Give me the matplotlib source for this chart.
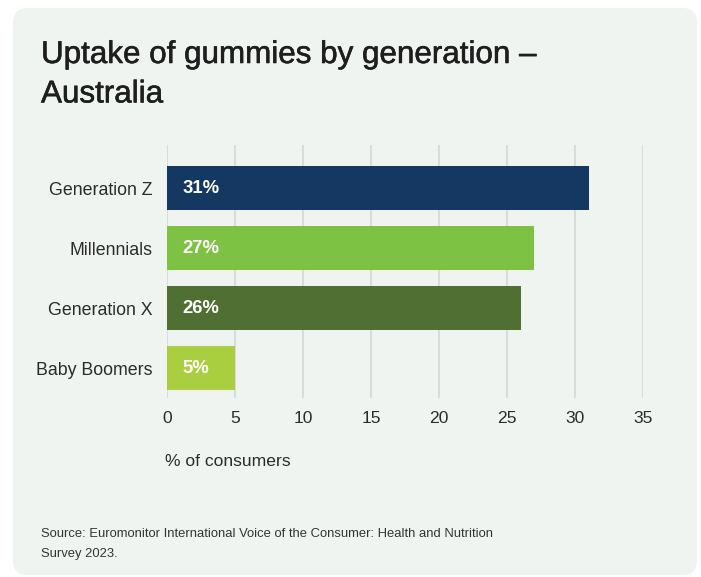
import matplotlib.pyplot as plt
import matplotlib.patheffects as pe
from matplotlib.patches import FancyBboxPatch
from matplotlib import font_manager

generations = ["Generation Z", "Millennials", "Generation X", "Baby Boomers"]
uptake = [31, 27, 26, 5]
bar_colors = ["#143862", "#7dc243", "#506f33", "#a9cf41"]
x_ticks = [0, 5, 10, 15, 20, 25, 30, 35]

title = "Uptake of gummies by generation \u2013\nAustralia"
x_label = "% of consumers"
source = ("Source: Euromonitor International Voice of the Consumer: Health and Nutrition\n"
          "Survey 2023.")

available = {f.name for f in font_manager.fontManager.ttflist}
base_font = "Liberation Sans" if "Liberation Sans" in available else "DejaVu Sans"
narrow = "Liberation Sans Narrow" in available
plt.rcParams["font.family"] = [base_font, "DejaVu Sans"]

W, H = 701, 577
fig = plt.figure(figsize=(W / 100, H / 100), dpi=100)
fig.patch.set_facecolor("white")

card_bg = "#f0f4f1"
card = FancyBboxPatch((13 / W, 2 / H), (697 - 13) / W, (575 - 8) / H,
                      boxstyle="round,pad=0,rounding_size=0.02",
                      transform=fig.transFigure, facecolor=card_bg,
                      edgecolor="none", zorder=-10, mutation_aspect=W / H)
fig.patches.append(card)

ax = fig.add_axes([167 / W, 1 - 398 / H, 476 / W, 253 / H])
ax.set_facecolor("none")
ax.set_zorder(2)

ypos = list(range(len(generations)))
ax.barh(ypos, uptake, height=0.733, color=bar_colors, zorder=3)

for y, v in zip(ypos, uptake):
    ax.annotate(f"{v}%", xy=(0, y), xytext=(11, 0), textcoords="offset points",
                ha="left", va="center", color="white", fontsize=13.3,
                fontweight="bold", zorder=4)

ax.set_xlim(0, 35)
ax.set_ylim(3.5, -0.717)
ax.set_xticks(x_ticks)
ax.set_xticklabels([str(t) for t in x_ticks])
ax.set_yticks(ypos)
ax.set_yticklabels(generations)
ax.tick_params(axis="y", length=0, pad=10.5, labelsize=12.8, labelcolor="#2b2b2b")
ax.tick_params(axis="x", length=0, pad=9.5, labelsize=12.6, labelcolor="#2b2b2b")
ax.grid(axis="x", color="#d9dcd9", linewidth=1.5, zorder=1)
ax.set_axisbelow(True)
for s in ax.spines.values():
    s.set_visible(False)

fig.text(165 / W, 1 - 462 / H, x_label, ha="left", va="center",
         fontsize=12.6, color="#2b2b2b")

fig.text(41 / W, 1 - 40 / H, title, ha="left", va="top", fontsize=22.6,
         color="#1e1e1e", linespacing=1.41,
         path_effects=[pe.withStroke(linewidth=0.4, foreground="#1e1e1e")])

if narrow:
    fig.text(41 / W, 1 - 525 / H, source, ha="left", va="top", fontsize=11.5,
             color="#333333", family=["Liberation Sans Narrow", "DejaVu Sans"],
             linespacing=1.35)
else:
    fig.text(41 / W, 1 - 528 / H, source, ha="left", va="top", fontsize=9.35,
             color="#333333", linespacing=1.92)

fig.savefig("out.png", dpi=100, facecolor=fig.get_facecolor())
